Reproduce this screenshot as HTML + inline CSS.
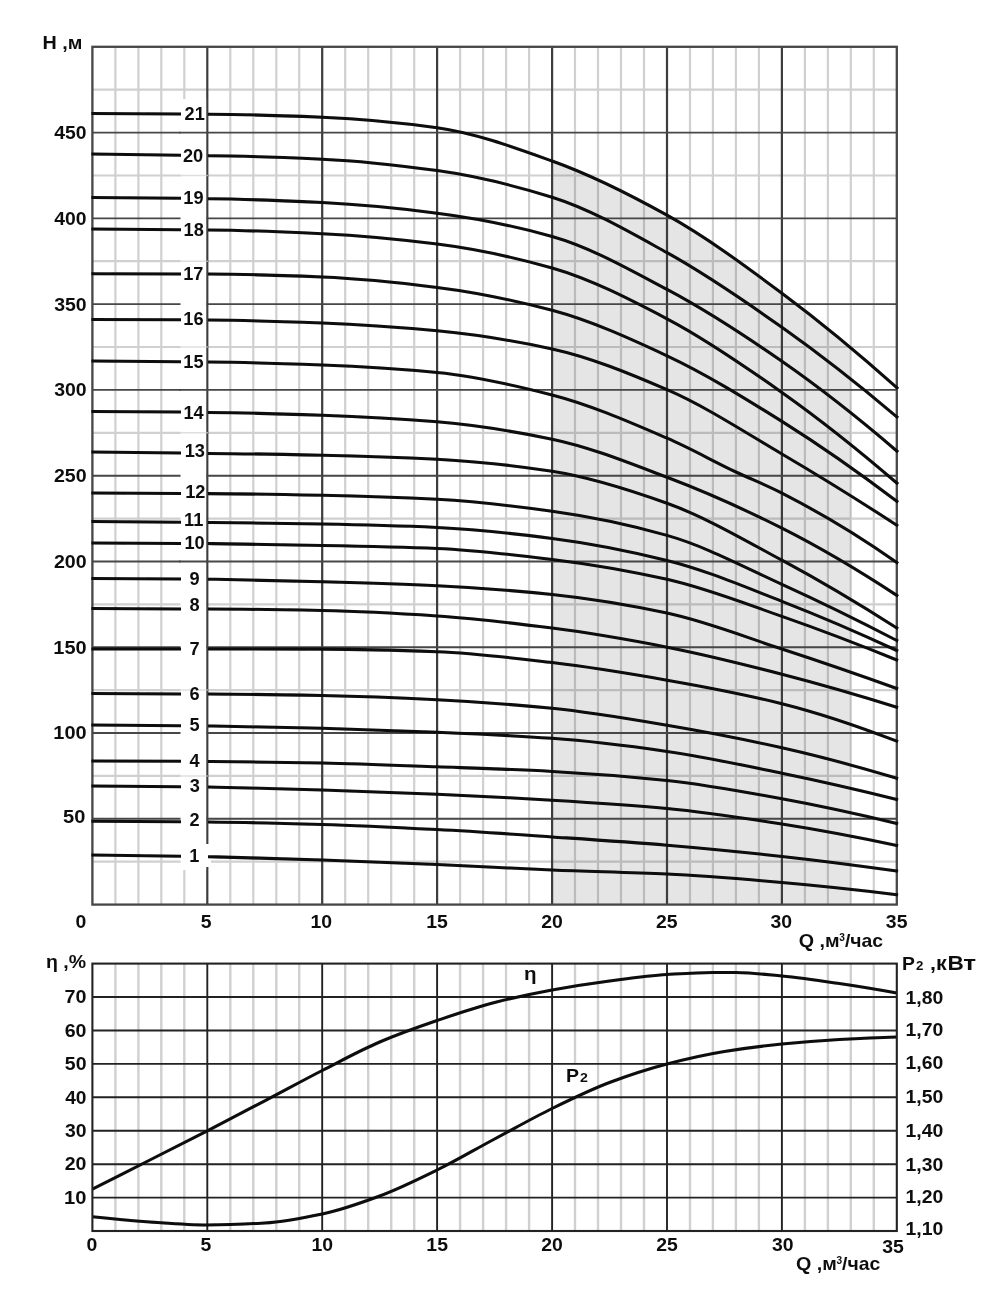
<!DOCTYPE html>
<html lang="ru">
<head>
<meta charset="utf-8">
<title>H-Q</title>
<style>
html,body{margin:0;padding:0;background:#fff;}
body{width:1000px;height:1297px;overflow:hidden;font-family:"Liberation Sans",sans-serif;}
svg{display:block;}
text{font-family:"Liberation Sans",sans-serif;fill:#111;}
.b{font-weight:bold;}
.cl{stroke:#111;stroke-width:0.95px;}
</style>
</head>
<body>
<svg width="1000" height="1297" viewBox="0 0 1000 1297">
<rect width="1000" height="1297" fill="#fff"/>
<g filter="url(#soft)">
<path d="M115.4 46.8V904.6M138.4 46.8V904.6M161.3 46.8V904.6M184.3 46.8V904.6M230.3 46.8V904.6M253.3 46.8V904.6M276.3 46.8V904.6M299.2 46.8V904.6M345.2 46.8V904.6M368.2 46.8V904.6M391.2 46.8V904.6M414.2 46.8V904.6M460.1 46.8V904.6M483.1 46.8V904.6M506.1 46.8V904.6M529.1 46.8V904.6M575.0 46.8V904.6M598.0 46.8V904.6M621.0 46.8V904.6M644.0 46.8V904.6M690.0 46.8V904.6M712.9 46.8V904.6M735.9 46.8V904.6M758.9 46.8V904.6M804.9 46.8V904.6M827.9 46.8V904.6M850.8 46.8V904.6M873.8 46.8V904.6M92.4 861.7H896.8M92.4 775.9H896.8M92.4 690.1H896.8M92.4 604.4H896.8M92.4 518.6H896.8M92.4 432.8H896.8M92.4 347.0H896.8M92.4 261.2H896.8M92.4 175.5H896.8M92.4 89.7H896.8" stroke="#d0d0d0" stroke-width="2.2" fill="none"/>
<path d="M552.1 904.6 L552.1 161.0 L559.5 163.7 L567.0 166.6 L574.5 169.6 L581.9 172.7 L589.4 176.0 L596.9 179.3 L604.3 182.8 L611.8 186.4 L619.3 190.0 L626.8 193.8 L634.2 197.6 L641.7 201.5 L649.2 205.5 L656.6 209.5 L664.1 213.6 L671.6 217.8 L679.0 222.1 L686.5 226.6 L694.0 231.3 L701.4 236.1 L708.9 241.0 L716.4 246.0 L723.9 251.1 L731.3 256.3 L738.8 261.6 L746.3 267.0 L753.7 272.4 L761.2 277.9 L768.7 283.4 L776.1 288.9 L783.6 294.5 L791.1 300.1 L798.5 305.8 L806.0 311.6 L813.5 317.4 L821.0 323.4 L828.4 329.4 L835.9 335.5 L843.4 341.6 L850.8 347.8 L850.8 904.6 Z" fill="#e5e5e5" style="mix-blend-mode:multiply"/>
<path d="M207.3 46.8V904.6M322.2 46.8V904.6M437.1 46.8V904.6M552.1 46.8V904.6M667.0 46.8V904.6M781.9 46.8V904.6" stroke="#3c3c3c" stroke-width="2.2" fill="none"/>
<path d="M92.4 818.8H896.8M92.4 733.0H896.8M92.4 647.3H896.8M92.4 561.5H896.8M92.4 475.7H896.8M92.4 389.9H896.8M92.4 304.1H896.8M92.4 218.4H896.8M92.4 132.6H896.8" stroke="#464646" stroke-width="1.9" fill="none"/>
<rect x="180.5" y="99" width="25.6" height="771" fill="#fff"/>
<rect x="203" y="844" width="8" height="23" fill="#fff"/>
<path d="M179 132.6H208M179 389.9H208M179 561.5H208" stroke="#464646" stroke-width="1.9" fill="none"/>
<path d="M179 175.5H208M179 261.2H208M179 347.0H208M179 432.8H208M179 690.1H208M179 775.9H208" stroke="#d0d0d0" stroke-width="1.5" fill="none" opacity="0.7"/>
<rect x="92.4" y="46.8" width="804.4" height="857.8" fill="none" stroke="#464646" stroke-width="2.3"/>
<path d="M91.4 113.4L181 114.0" stroke="#0a0a0a" stroke-width="3.05" fill="none"/>
<path d="M208.0 114.3 C246.1 114.3 284.2 115.7 322.2 117.2 C360.5 118.7 398.8 122.4 437.1 127.8 C475.4 133.2 513.8 147.3 552.1 161.0 C590.4 174.7 628.7 193.9 667.0 215.2 C705.3 236.5 743.6 264.7 781.9 293.2 C820.2 321.7 858.5 353.4 896.8 387.7 L898.1 388.9" stroke="#0a0a0a" stroke-width="3.05" fill="none"/>
<path d="M91.4 154.1L181 155.3" stroke="#0a0a0a" stroke-width="3.05" fill="none"/>
<path d="M208.0 155.8 C246.1 155.8 284.2 157.5 322.2 159.2 C360.5 160.9 398.8 165.3 437.1 170.6 C475.4 175.9 513.8 185.3 552.1 197.3 C590.4 209.3 628.7 231.5 667.0 252.7 C705.3 273.9 743.6 300.2 781.9 327.3 C820.2 354.4 858.5 384.5 896.8 416.8 L898.1 417.9" stroke="#0a0a0a" stroke-width="3.05" fill="none"/>
<path d="M91.4 197.5L181 198.3" stroke="#0a0a0a" stroke-width="3.05" fill="none"/>
<path d="M208.0 198.8 C246.1 199.0 284.2 200.7 322.2 202.6 C360.5 204.5 398.8 208.3 437.1 213.2 C475.4 218.1 513.8 225.7 552.1 236.5 C590.4 247.3 628.7 269.1 667.0 289.4 C705.3 309.7 743.6 334.7 781.9 361.3 C820.2 387.9 858.5 418.1 896.8 451.0 L898.1 452.1" stroke="#0a0a0a" stroke-width="3.05" fill="none"/>
<path d="M91.4 229.1L181 229.7" stroke="#0a0a0a" stroke-width="3.05" fill="none"/>
<path d="M208.0 230.0 C246.1 230.2 284.2 231.9 322.2 233.7 C360.5 235.5 398.8 239.2 437.1 244.0 C475.4 248.8 513.8 257.1 552.1 268.0 C590.4 278.9 628.7 298.8 667.0 318.8 C705.3 338.8 743.6 365.3 781.9 392.4 C820.2 419.5 858.5 450.0 896.8 483.0 L898.1 484.1" stroke="#0a0a0a" stroke-width="3.05" fill="none"/>
<path d="M91.4 273.7L181 273.9" stroke="#0a0a0a" stroke-width="3.05" fill="none"/>
<path d="M208.0 274.0 C246.1 274.0 284.2 275.5 322.2 277.0 C360.5 278.6 398.8 282.6 437.1 287.4 C475.4 292.2 513.8 300.1 552.1 310.3 C590.4 320.5 628.7 337.9 667.0 355.8 C705.3 373.7 743.6 397.4 781.9 421.4 C820.2 445.4 858.5 472.3 896.8 501.3 L898.1 502.3" stroke="#0a0a0a" stroke-width="3.05" fill="none"/>
<path d="M91.4 319.5L181 319.8" stroke="#0a0a0a" stroke-width="3.05" fill="none"/>
<path d="M208.0 320.0 C246.1 320.2 284.2 321.6 322.2 323.0 C360.5 324.4 398.8 327.2 437.1 330.8 C475.4 334.4 513.8 340.6 552.1 349.0 C590.4 357.4 628.7 373.1 667.0 389.7 C705.3 406.3 743.6 431.5 781.9 454.0 C820.2 476.5 858.5 500.3 896.8 525.2 L898.1 526.0" stroke="#0a0a0a" stroke-width="3.05" fill="none"/>
<path d="M91.4 361.0L181 361.7" stroke="#0a0a0a" stroke-width="3.05" fill="none"/>
<path d="M208.0 362.0 C246.1 362.3 284.2 363.6 322.2 365.0 C360.5 366.4 398.8 368.8 437.1 372.5 C475.4 376.2 513.8 385.1 552.1 395.0 C590.4 404.9 628.7 421.7 667.0 438.2 C690.0 448.1 712.9 461.1 735.9 472.0 C751.2 479.2 766.6 485.3 781.9 493.1 C820.2 512.7 858.5 535.4 896.8 562.6 L898.1 563.5" stroke="#0a0a0a" stroke-width="3.05" fill="none"/>
<path d="M91.4 411.4L181 412.1" stroke="#0a0a0a" stroke-width="3.05" fill="none"/>
<path d="M208.0 412.4 C246.1 412.7 284.2 413.9 322.2 415.2 C360.5 416.5 398.8 418.6 437.1 421.8 C475.4 425.0 513.8 431.2 552.1 439.2 C590.4 447.2 628.7 462.8 667.0 477.3 C705.3 491.8 743.6 508.9 781.9 528.2 C820.2 547.5 858.5 570.3 896.8 595.4 L898.1 596.3" stroke="#0a0a0a" stroke-width="3.05" fill="none"/>
<path d="M91.4 452.0L181 453.0" stroke="#0a0a0a" stroke-width="3.05" fill="none"/>
<path d="M208.0 453.4 C246.1 453.6 284.2 454.4 322.2 455.2 C360.5 456.0 398.8 457.2 437.1 459.2 C475.4 461.2 513.8 465.4 552.1 471.3 C590.4 477.2 628.7 489.6 667.0 503.3 C705.3 517.0 743.6 539.6 781.9 560.2 C820.2 580.8 858.5 603.6 896.8 628.0 L898.1 628.8" stroke="#0a0a0a" stroke-width="3.05" fill="none"/>
<path d="M91.4 493.0L181 493.4" stroke="#0a0a0a" stroke-width="3.05" fill="none"/>
<path d="M208.0 493.6 C246.1 493.8 284.2 494.5 322.2 495.3 C360.5 496.1 398.8 497.3 437.1 499.3 C475.4 501.3 513.8 506.0 552.1 511.3 C590.4 516.6 628.7 524.6 667.0 535.4 C705.3 546.2 743.6 566.9 781.9 584.3 C820.2 601.7 858.5 620.5 896.8 640.5 L898.1 641.2" stroke="#0a0a0a" stroke-width="3.05" fill="none"/>
<path d="M91.4 521.6L181 522.2" stroke="#0a0a0a" stroke-width="3.05" fill="none"/>
<path d="M208.0 522.4 C246.1 522.6 284.2 523.3 322.2 524.0 C360.5 524.7 398.8 525.7 437.1 527.4 C475.4 529.1 513.8 533.5 552.1 538.4 C590.4 543.3 628.7 550.9 667.0 560.4 C705.3 569.9 743.6 586.4 781.9 601.3 C820.2 616.2 858.5 632.7 896.8 650.5 L898.1 651.1" stroke="#0a0a0a" stroke-width="3.05" fill="none"/>
<path d="M91.4 543.0L181 543.4" stroke="#0a0a0a" stroke-width="3.05" fill="none"/>
<path d="M208.0 543.6 C246.1 544.0 284.2 544.7 322.2 545.4 C360.5 546.1 398.8 546.8 437.1 548.4 C475.4 550.0 513.8 554.7 552.1 559.4 C590.4 564.1 628.7 570.7 667.0 579.3 C705.3 587.9 743.6 603.0 781.9 616.4 C820.2 629.8 858.5 644.4 896.8 660.0 L898.1 660.5" stroke="#0a0a0a" stroke-width="3.05" fill="none"/>
<path d="M91.4 578.4L181 578.9" stroke="#0a0a0a" stroke-width="3.05" fill="none"/>
<path d="M208.0 579.2 C246.1 579.8 284.2 580.8 322.2 581.8 C360.5 582.9 398.8 584.0 437.1 585.8 C475.4 587.6 513.8 590.5 552.1 594.5 C590.4 598.5 628.7 604.9 667.0 613.1 C705.3 621.3 743.6 636.5 781.9 649.0 C820.2 661.5 858.5 674.7 896.8 688.5 L898.1 689.0" stroke="#0a0a0a" stroke-width="3.05" fill="none"/>
<path d="M91.4 608.6L181 608.9" stroke="#0a0a0a" stroke-width="3.05" fill="none"/>
<path d="M208.0 609.0 C246.1 609.0 284.2 609.8 322.2 610.6 C360.5 611.4 398.8 613.5 437.1 616.0 C475.4 618.5 513.8 623.2 552.1 628.1 C590.4 633.0 628.7 639.7 667.0 647.2 C705.3 654.7 743.6 664.3 781.9 674.2 C820.2 684.1 858.5 695.2 896.8 707.2 L898.1 707.6" stroke="#0a0a0a" stroke-width="3.05" fill="none"/>
<path d="M91.4 649.0L181 649.0" stroke="#0a0a0a" stroke-width="3.05" fill="none"/>
<path d="M208.0 649.0 C246.1 649.0 284.2 649.0 322.2 649.1 C360.5 649.2 398.8 650.3 437.1 651.7 C475.4 653.1 513.8 658.1 552.1 662.6 C590.4 667.1 628.7 673.5 667.0 680.2 C705.3 686.9 743.6 694.1 781.9 703.7 C820.2 713.3 858.5 726.4 896.8 741.2 L898.1 741.7" stroke="#0a0a0a" stroke-width="3.05" fill="none"/>
<path d="M91.4 693.6L181 693.9" stroke="#0a0a0a" stroke-width="3.05" fill="none"/>
<path d="M208.0 694.0 C246.1 694.1 284.2 694.8 322.2 695.6 C360.5 696.4 398.8 697.9 437.1 699.8 C475.4 701.7 513.8 704.5 552.1 708.3 C590.4 712.1 628.7 718.8 667.0 725.3 C705.3 731.8 743.6 739.2 781.9 747.8 C820.2 756.4 858.5 766.8 896.8 778.3 L898.1 778.7" stroke="#0a0a0a" stroke-width="3.05" fill="none"/>
<path d="M91.4 725.0L181 725.7" stroke="#0a0a0a" stroke-width="3.05" fill="none"/>
<path d="M208.0 726.0 C246.1 726.5 284.2 727.3 322.2 728.3 C360.5 729.3 398.8 730.7 437.1 732.3 C475.4 733.9 513.8 735.6 552.1 738.3 C590.4 741.0 628.7 745.9 667.0 751.4 C705.3 756.9 743.6 765.3 781.9 773.2 C820.2 781.1 858.5 789.9 896.8 799.4 L898.1 799.7" stroke="#0a0a0a" stroke-width="3.05" fill="none"/>
<path d="M91.4 761.0L181 761.3" stroke="#0a0a0a" stroke-width="3.05" fill="none"/>
<path d="M208.0 761.4 C246.1 761.6 284.2 762.3 322.2 763.0 C360.5 763.8 398.8 765.4 437.1 766.8 C475.4 768.2 513.8 769.4 552.1 771.4 C590.4 773.4 628.7 776.4 667.0 780.4 C705.3 784.4 743.6 791.7 781.9 798.7 C820.2 805.7 858.5 814.1 896.8 823.4 L898.1 823.7" stroke="#0a0a0a" stroke-width="3.05" fill="none"/>
<path d="M91.4 786.0L181 786.7" stroke="#0a0a0a" stroke-width="3.05" fill="none"/>
<path d="M208.0 787.0 C246.1 787.7 284.2 788.8 322.2 789.9 C360.5 791.1 398.8 792.5 437.1 794.2 C475.4 795.9 513.8 797.9 552.1 800.2 C590.4 802.5 628.7 804.9 667.0 808.5 C705.3 812.1 743.6 818.0 781.9 824.0 C820.2 830.0 858.5 837.3 896.8 845.5 L898.1 845.8" stroke="#0a0a0a" stroke-width="3.05" fill="none"/>
<path d="M91.4 821.3L181 821.7" stroke="#0a0a0a" stroke-width="3.05" fill="none"/>
<path d="M208.0 822.0 C246.1 822.4 284.2 823.4 322.2 824.5 C360.5 825.6 398.8 827.6 437.1 829.6 C475.4 831.6 513.8 834.3 552.1 836.9 C590.4 839.5 628.7 842.0 667.0 845.2 C705.3 848.4 743.6 852.2 781.9 856.4 C820.2 860.6 858.5 865.6 896.8 871.0 L898.1 871.2" stroke="#0a0a0a" stroke-width="3.05" fill="none"/>
<path d="M91.4 855.0L181 856.2" stroke="#0a0a0a" stroke-width="3.05" fill="none"/>
<path d="M208.0 856.7 C246.1 857.5 284.2 858.6 322.2 859.9 C360.5 861.2 398.8 862.9 437.1 864.6 C475.4 866.3 513.8 868.4 552.1 870.0 C590.4 871.6 628.7 872.3 667.0 874.1 C705.3 875.9 743.6 879.2 781.9 882.5 C820.2 885.8 858.5 890.0 896.8 894.7 L898.1 894.9" stroke="#0a0a0a" stroke-width="3.05" fill="none"/>
<path d="M115.4 963.6V1231.0M138.4 963.6V1231.0M161.3 963.6V1231.0M184.3 963.6V1231.0M230.3 963.6V1231.0M253.3 963.6V1231.0M276.3 963.6V1231.0M299.2 963.6V1231.0M345.2 963.6V1231.0M368.2 963.6V1231.0M391.2 963.6V1231.0M414.2 963.6V1231.0M460.1 963.6V1231.0M483.1 963.6V1231.0M506.1 963.6V1231.0M529.1 963.6V1231.0M575.0 963.6V1231.0M598.0 963.6V1231.0M621.0 963.6V1231.0M644.0 963.6V1231.0M690.0 963.6V1231.0M712.9 963.6V1231.0M735.9 963.6V1231.0M758.9 963.6V1231.0M804.9 963.6V1231.0M827.9 963.6V1231.0M850.8 963.6V1231.0M873.8 963.6V1231.0" stroke="#d0d0d0" stroke-width="2.4" fill="none"/>
<rect x="507.6" y="964.6" width="43.0" height="31.4" fill="#fff"/>
<rect x="553.6" y="1064.9" width="43.0" height="31.4" fill="#fff"/>
<path d="M207.3 963.6V1231.0M322.2 963.6V1231.0M437.1 963.6V1231.0M552.1 963.6V1231.0M667.0 963.6V1231.0M781.9 963.6V1231.0M92.4 1197.6H896.8M92.4 1164.2H896.8M92.4 1130.7H896.8M92.4 1097.3H896.8M92.4 1063.9H896.8M92.4 1030.5H896.8M92.4 997.0H896.8" stroke="#222222" stroke-width="1.9" fill="none"/>
<path d="M92.4 1189.2 C111.6 1179.5 130.7 1169.7 149.9 1160.0 C169.0 1150.3 188.2 1140.7 207.3 1130.8 C226.5 1120.9 245.6 1110.8 264.8 1100.8 C283.9 1090.8 303.1 1080.3 322.2 1070.5 C341.4 1060.7 360.5 1050.2 379.7 1042.0 C398.8 1033.8 418.0 1027.0 437.1 1020.5 C456.3 1014.0 475.4 1007.4 494.6 1002.5 C513.8 997.6 532.9 993.5 552.1 990.0 C571.2 986.5 590.4 983.5 609.5 981.0 C628.7 978.5 647.8 975.7 667.0 974.5 C682.3 973.6 697.6 972.5 712.9 972.5 C720.6 972.5 728.3 972.5 735.9 972.6 C751.2 972.7 766.6 974.6 781.9 976.0 C801.0 977.8 820.2 980.7 839.3 983.5 C858.5 986.3 877.6 989.5 896.8 993.0" stroke="#0a0a0a" stroke-width="3.05" fill="none"/>
<path d="M92.4 1216.8 C111.6 1218.9 130.7 1220.7 149.9 1222.0 C169.0 1223.3 188.2 1225.0 207.3 1225.0 C226.5 1225.0 245.6 1224.1 264.8 1223.0 C283.9 1221.9 303.1 1218.0 322.2 1214.0 C341.4 1210.0 360.5 1203.1 379.7 1196.0 C398.8 1188.9 418.0 1179.4 437.1 1170.0 C456.3 1160.6 475.4 1149.2 494.6 1139.0 C513.8 1128.8 532.9 1117.9 552.1 1108.5 C571.2 1099.1 590.4 1089.7 609.5 1082.5 C628.7 1075.3 647.8 1069.0 667.0 1064.0 C686.1 1059.0 705.3 1054.6 724.4 1051.5 C743.6 1048.4 762.7 1045.9 781.9 1044.0 C801.0 1042.1 820.2 1040.6 839.3 1039.5 C858.5 1038.4 877.6 1037.5 896.8 1037.0" stroke="#0a0a0a" stroke-width="3.05" fill="none"/>
<rect x="92.4" y="963.6" width="804.4" height="267.4" fill="none" stroke="#222222" stroke-width="2.1"/>
</g>
<g filter="url(#soft)">
<text class="b" font-size="18.20" transform="matrix(1.0000 0 0 1 184.61 120.10)">21</text>
<text class="b" font-size="18.20" transform="matrix(1.0000 0 0 1 182.94 162.10)">20</text>
<text class="b" font-size="18.20" transform="matrix(1.0000 0 0 1 183.26 204.10)">19</text>
<text class="b" font-size="18.20" transform="matrix(1.0000 0 0 1 183.59 236.10)">18</text>
<text class="b" font-size="18.20" transform="matrix(1.0000 0 0 1 183.22 279.60)">17</text>
<text class="b" font-size="18.20" transform="matrix(1.0000 0 0 1 183.36 325.10)">16</text>
<text class="b" font-size="18.20" transform="matrix(1.0000 0 0 1 183.26 367.90)">15</text>
<text class="b" font-size="18.20" transform="matrix(1.0000 0 0 1 183.38 418.80)">14</text>
<text class="b" font-size="18.20" transform="matrix(1.0000 0 0 1 184.66 457.00)">13</text>
<text class="b" font-size="18.20" transform="matrix(1.0000 0 0 1 185.19 498.40)">12</text>
<text class="b" font-size="18.20" transform="matrix(1.0000 0 0 1 184.06 526.10)">11</text>
<text class="b" font-size="18.20" transform="matrix(1.0000 0 0 1 184.39 548.80)">10</text>
<text class="b" font-size="18.20" transform="matrix(1.0000 0 0 1 189.57 584.60)">9</text>
<text class="b" font-size="18.20" transform="matrix(1.0000 0 0 1 189.54 611.40)">8</text>
<text class="b" font-size="18.20" transform="matrix(1.0000 0 0 1 189.54 654.80)">7</text>
<text class="b" font-size="18.20" transform="matrix(1.0000 0 0 1 189.54 700.40)">6</text>
<text class="b" font-size="18.20" transform="matrix(1.0000 0 0 1 189.51 731.20)">5</text>
<text class="b" font-size="18.20" transform="matrix(1.0000 0 0 1 189.47 767.30)">4</text>
<text class="b" font-size="18.20" transform="matrix(1.0000 0 0 1 189.66 792.00)">3</text>
<text class="b" font-size="18.20" transform="matrix(1.0000 0 0 1 189.60 825.60)">2</text>
<text class="b" font-size="18.20" transform="matrix(1.0000 0 0 1 189.22 862.20)">1</text>
<text class="b" font-size="18.50" transform="matrix(1.0805 0 0 1 53.32 739.44)">100</text>
<text class="b" font-size="18.50" transform="matrix(1.0805 0 0 1 53.32 653.66)">150</text>
<text class="b" font-size="18.50" transform="matrix(1.0599 0 0 1 53.94 567.88)">200</text>
<text class="b" font-size="18.50" transform="matrix(1.0599 0 0 1 53.94 482.10)">250</text>
<text class="b" font-size="18.50" transform="matrix(1.0532 0 0 1 54.14 396.32)">300</text>
<text class="b" font-size="18.50" transform="matrix(1.0532 0 0 1 54.14 310.54)">350</text>
<text class="b" font-size="18.50" transform="matrix(1.0465 0 0 1 54.34 224.76)">400</text>
<text class="b" font-size="18.50" transform="matrix(1.0465 0 0 1 54.34 138.98)">450</text>
<text class="b" font-size="18.50" transform="matrix(1.0857 0 0 1 63.09 822.80)">50</text>
<text class="b" font-size="18.80" transform="matrix(1.0526 0 0 1 42.38 49.20)">H ,м</text>
<text class="b" font-size="18.50" transform="matrix(1.0500 0 0 1 75.62 928.30)">0</text>
<text class="b" font-size="18.50" transform="matrix(1.0500 0 0 1 200.79 928.30)">5</text>
<text class="b" font-size="18.50" transform="matrix(1.0500 0 0 1 310.58 928.30)">10</text>
<text class="b" font-size="18.50" transform="matrix(1.0500 0 0 1 426.24 928.30)">15</text>
<text class="b" font-size="18.50" transform="matrix(1.0500 0 0 1 541.27 928.30)">20</text>
<text class="b" font-size="18.50" transform="matrix(1.0500 0 0 1 655.94 928.30)">25</text>
<text class="b" font-size="18.50" transform="matrix(1.0500 0 0 1 770.47 928.30)">30</text>
<text class="b" font-size="18.50" transform="matrix(1.0500 0 0 1 885.84 928.30)">35</text>
<text class="b" font-size="18.50" transform="matrix(1.0657 0 0 1 798.70 947.30)">Q ,м</text>
<text class="b" font-size="10.50" transform="matrix(0.9639 0 0 1 839.26 941.30)">3</text>
<text class="b" font-size="18.50" transform="matrix(1.0462 0 0 1 844.90 947.30)">/час</text>
<text class="b" font-size="18.50" transform="matrix(1.0899 0 0 1 64.11 1203.78)">10</text>
<text class="b" font-size="18.50" transform="matrix(1.0580 0 0 1 64.74 1170.35)">20</text>
<text class="b" font-size="18.50" transform="matrix(1.0477 0 0 1 64.94 1136.92)">30</text>
<text class="b" font-size="18.50" transform="matrix(1.0377 0 0 1 65.14 1103.50)">40</text>
<text class="b" font-size="18.50" transform="matrix(1.0545 0 0 1 64.81 1070.08)">50</text>
<text class="b" font-size="18.50" transform="matrix(1.0614 0 0 1 64.67 1036.65)">60</text>
<text class="b" font-size="18.50" transform="matrix(1.0684 0 0 1 64.53 1003.23)">70</text>
<text class="b" font-size="18.50" transform="matrix(1.0548 0 0 1 45.95 967.50)">η ,%</text>
<text class="b" font-size="18.50" transform="matrix(1.0500 0 0 1 905.45 1235.00)">1,10</text>
<text class="b" font-size="18.50" transform="matrix(1.0500 0 0 1 905.45 1203.20)">1,20</text>
<text class="b" font-size="18.50" transform="matrix(1.0500 0 0 1 905.45 1170.80)">1,30</text>
<text class="b" font-size="18.50" transform="matrix(1.0500 0 0 1 905.45 1137.00)">1,40</text>
<text class="b" font-size="18.50" transform="matrix(1.0500 0 0 1 905.45 1103.40)">1,50</text>
<text class="b" font-size="18.50" transform="matrix(1.0500 0 0 1 905.45 1069.30)">1,60</text>
<text class="b" font-size="18.50" transform="matrix(1.0500 0 0 1 905.45 1035.70)">1,70</text>
<text class="b" font-size="18.50" transform="matrix(1.0500 0 0 1 905.45 1003.80)">1,80</text>
<text class="b" font-size="18.50" transform="matrix(1.0443 0 0 1 902.09 970.00)">P</text>
<text class="b" font-size="12.50" transform="matrix(1.0667 0 0 1 915.93 970.00)">2</text>
<text class="b" font-size="19.50" transform="matrix(1.1005 0 0 1 930.09 970.00)">,к</text>
<text class="b" font-size="21.00" transform="matrix(1.0771 0 0 1 947.52 970.00)">В</text>
<text class="b" font-size="20.00" transform="matrix(1.3122 0 0 1 963.26 970.00)">т</text>
<text class="b" font-size="18.50" transform="matrix(1.0500 0 0 1 86.42 1250.80)">0</text>
<text class="b" font-size="18.50" transform="matrix(1.0500 0 0 1 200.59 1250.80)">5</text>
<text class="b" font-size="18.50" transform="matrix(1.0500 0 0 1 311.58 1250.80)">10</text>
<text class="b" font-size="18.50" transform="matrix(1.0500 0 0 1 426.34 1250.80)">15</text>
<text class="b" font-size="18.50" transform="matrix(1.0500 0 0 1 541.27 1250.80)">20</text>
<text class="b" font-size="18.50" transform="matrix(1.0500 0 0 1 656.14 1250.80)">25</text>
<text class="b" font-size="18.50" transform="matrix(1.0500 0 0 1 771.97 1250.80)">30</text>
<text class="b" font-size="18.50" transform="matrix(1.0500 0 0 1 882.14 1253.30)">35</text>
<text class="b" font-size="18.50" transform="matrix(1.0657 0 0 1 795.90 1270.20)">Q ,м</text>
<text class="b" font-size="10.50" transform="matrix(0.9639 0 0 1 836.46 1264.20)">3</text>
<text class="b" font-size="18.50" transform="matrix(1.0462 0 0 1 842.10 1270.20)">/час</text>
<text class="b" font-size="18.50" transform="matrix(1.1068 0 0 1 524.09 979.80)">η</text>
<text class="b" font-size="18.50" transform="matrix(1.0539 0 0 1 565.88 1082.20)">P</text>
<text class="b" font-size="13.00" transform="matrix(1.0880 0 0 1 580.12 1082.20)">2</text>
</g>
<defs><filter id="soft" x="0" y="0" width="100%" height="100%" filterUnits="userSpaceOnUse"><feGaussianBlur stdDeviation="0.72"/></filter></defs>
</svg>
</body>
</html>
